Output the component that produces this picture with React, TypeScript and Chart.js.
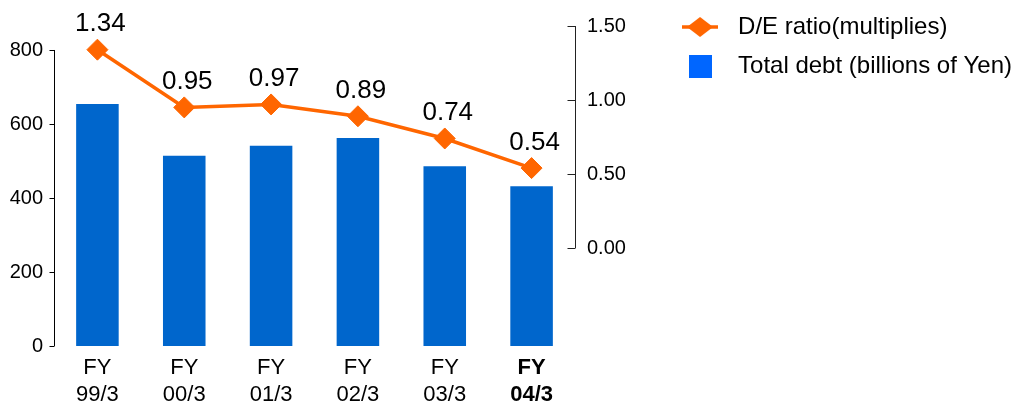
import React, { useEffect, useRef } from "react";
import { Chart, registerables } from "chart.js";

Chart.register(...registerables);

const CATEGORIES: string[][] = [
  ["FY", "99/3"],
  ["FY", "00/3"],
  ["FY", "01/3"],
  ["FY", "02/3"],
  ["FY", "03/3"],
  ["FY", "04/3"],
];
const TOTAL_DEBT = [654, 514, 541, 562, 486, 432];
const DE_RATIO = [1.34, 0.95, 0.97, 0.89, 0.74, 0.54];
const LEFT_TICKS = [0, 200, 400, 600, 800];
const RIGHT_TICKS = [0, 0.5, 1.0, 1.5];
const SERIES_NAMES = ["D/E ratio(multiplies)", "Total debt (billions of Yen)"];

const ORANGE = "#FF6600";
const BAR_BLUE = "#0066CC";
const LEGEND_BLUE = "#0066FF";
const FONT = "'Liberation Sans', Arial, Helvetica, sans-serif";

function makeLineIcon(): HTMLCanvasElement {
  const c = document.createElement("canvas");
  c.width = 36;
  c.height = 22;
  const g = c.getContext("2d")!;
  g.strokeStyle = ORANGE;
  g.lineWidth = 3.5;
  g.beginPath();
  g.moveTo(0, 11);
  g.lineTo(36, 11);
  g.stroke();
  g.fillStyle = ORANGE;
  g.beginPath();
  g.moveTo(5, 11);
  g.lineTo(18, 1);
  g.lineTo(31, 11);
  g.lineTo(18, 21);
  g.closePath();
  g.fill();
  return c;
}

function makeSquareIcon(): HTMLCanvasElement {
  const c = document.createElement("canvas");
  c.width = 23;
  c.height = 23;
  const g = c.getContext("2d")!;
  g.fillStyle = LEGEND_BLUE;
  g.fillRect(0, 0, 23, 23);
  return c;
}

const axesPlugin = {
  id: "customAxes",
  afterDraw(chart: any) {
    const ctx = chart.ctx;
    const yL = chart.scales.y;
    const yR = chart.scales.y1;
    const area = chart.chartArea;
    ctx.save();
    ctx.strokeStyle = "#000";
    ctx.lineWidth = 1;
    // left axis
    const lx = Math.round(area.left) + 0.5;
    ctx.beginPath();
    ctx.moveTo(lx, yL.getPixelForValue(LEFT_TICKS[LEFT_TICKS.length - 1]));
    ctx.lineTo(lx, yL.getPixelForValue(LEFT_TICKS[0]));
    LEFT_TICKS.forEach((v) => {
      const py = Math.round(yL.getPixelForValue(v)) + 0.5;
      ctx.moveTo(lx - 5, py);
      ctx.lineTo(lx, py);
    });
    ctx.stroke();
    // right axis
    ctx.strokeStyle = "#222";
    const rx = Math.round(area.right) + 0.5;
    ctx.beginPath();
    ctx.moveTo(rx, yR.getPixelForValue(RIGHT_TICKS[RIGHT_TICKS.length - 1]));
    ctx.lineTo(rx, yR.getPixelForValue(RIGHT_TICKS[0]));
    RIGHT_TICKS.forEach((v) => {
      const py = Math.round(yR.getPixelForValue(v)) + 0.5;
      ctx.moveTo(rx - 8, py);
      ctx.lineTo(rx, py);
    });
    ctx.stroke();
    ctx.restore();
  },
};

const labelPlugin = {
  id: "pointLabels",
  afterDatasetsDraw(chart: any) {
    const ctx = chart.ctx;
    const meta = chart.getDatasetMeta(0);
    ctx.save();
    ctx.font = `26px ${FONT}`;
    ctx.fillStyle = "#000";
    ctx.textAlign = "center";
    ctx.textBaseline = "alphabetic";
    meta.data.forEach((pt: any, i: number) => {
      ctx.fillText(DE_RATIO[i].toFixed(2), pt.x + 3, pt.y - 18.5);
    });
    ctx.restore();
  },
};

export default function App() {
  const ref = useRef<HTMLCanvasElement | null>(null);

  useEffect(() => {
    if (!ref.current) return;
    Chart.defaults.font.family = FONT;
    const icons = [makeLineIcon(), makeSquareIcon()];

    const chart = new Chart(ref.current, {
      type: "bar",
      data: {
        labels: CATEGORIES,
        datasets: [
          {
            type: "line",
            label: SERIES_NAMES[0],
            data: DE_RATIO,
            yAxisID: "y1",
            order: 0,
            borderColor: ORANGE,
            backgroundColor: ORANGE,
            borderWidth: 3.5,
            pointStyle: "rectRot",
            pointRadius: 10.5,
            pointBackgroundColor: ORANGE,
            pointBorderColor: ORANGE,
            pointBorderWidth: 1,
            tension: 0,
          } as any,
          {
            type: "bar",
            label: SERIES_NAMES[1],
            data: TOTAL_DEBT,
            yAxisID: "y",
            order: 1,
            backgroundColor: BAR_BLUE,
            categoryPercentage: 1,
            barPercentage: 0.49,
          } as any,
        ],
      },
      options: {
        animation: false,
        responsive: true,
        maintainAspectRatio: false,
        layout: { padding: { left: 0, top: 0, bottom: 0, right: -7 }, autoPadding: false },
        plugins: {
          tooltip: { enabled: false },
          legend: {
            display: true,
            position: "right",
            align: "start",
            maxWidth: 500,
            labels: {
              usePointStyle: true,
              pointStyleWidth: 52,
              boxHeight: 23,
              padding: 15,
              color: "#000",
              font: { size: 24, family: FONT },
              generateLabels: (ch: any) => {
                const base = Chart.defaults.plugins.legend.labels.generateLabels(ch);
                return base.map((item: any) => ({
                  ...item,
                  pointStyle: icons[item.datasetIndex],
                  lineWidth: 0,
                }));
              },
            },
          } as any,
        },
        scales: {
          x: {
            offset: true,
            grid: { display: false, drawTicks: false },
            border: { display: false },
            ticks: {
              color: "#000",
              padding: 8,
              autoSkip: false,
              maxRotation: 0,
              font: (c: any) => ({
                size: 22,
                family: FONT,
                lineHeight: 1.25,
                weight: c.index === CATEGORIES.length - 1 ? "bold" : "normal",
              }),
            },
            afterFit: (s: any) => {
              s.height = 57;
              s.paddingLeft = 0;
              s.paddingRight = 0;
            },
          } as any,
          y: {
            position: "left",
            min: 0,
            max: 935.1,
            grid: { display: false, drawTicks: false },
            border: { display: false },
            ticks: {
              color: "#000",
              padding: 11,
              font: { size: 20, family: FONT },
            },
            afterBuildTicks: (s: any) => {
              s.ticks = LEFT_TICKS.map((v) => ({ value: v }));
            },
            afterFit: (s: any) => {
              s.width = 54;
              s.paddingTop = 0;
              s.paddingBottom = 0;
            },
          } as any,
          y1: {
            position: "right",
            min: -0.6622,
            max: 1.6757,
            grid: { display: false, drawTicks: false },
            border: { display: false },
            ticks: {
              color: "#000",
              padding: 12,
              font: { size: 20, family: FONT },
              callback: (v: any) => Number(v).toFixed(2),
            },
            afterBuildTicks: (s: any) => {
              s.ticks = RIGHT_TICKS.map((v) => ({ value: v }));
            },
            afterFit: (s: any) => {
              const lw = s.chart.legend && s.chart.legend.width ? s.chart.legend.width : 354;
              s.width = Math.max(40, s.chart.width + 7 - lw - 575);
              s.paddingTop = 0;
              s.paddingBottom = 0;
            },
          } as any,
        },
      },
      plugins: [axesPlugin, labelPlugin],
    });

    return () => chart.destroy();
  }, []);

  return (
    <div
      style={{
        position: "fixed",
        left: 0,
        top: 0,
        width: 1015,
        height: 403,
        background: "#fff",
      }}
    >
      <canvas ref={ref} />
    </div>
  );
}
